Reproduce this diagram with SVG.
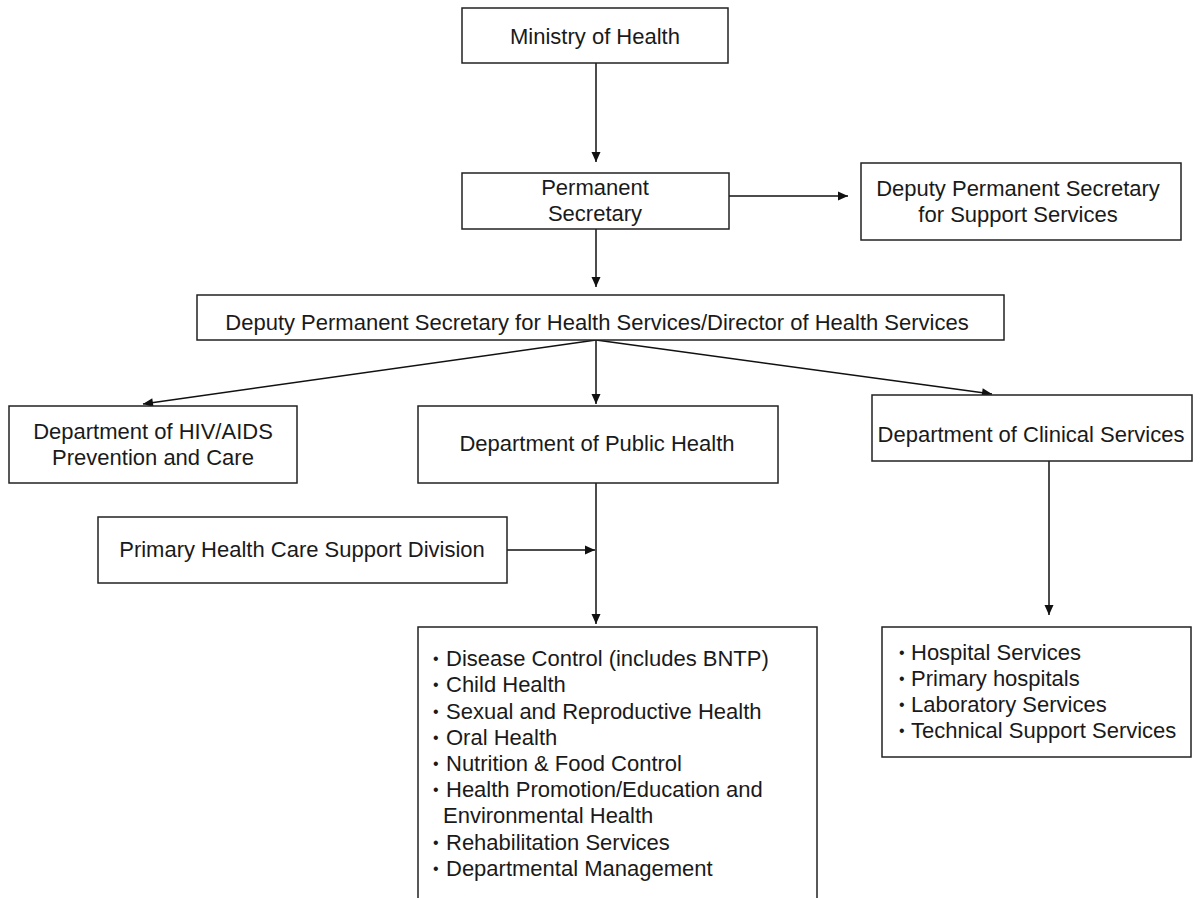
<svg xmlns="http://www.w3.org/2000/svg" width="1204" height="898" viewBox="0 0 1204 898">
<style>
.box{fill:#fff;stroke:#222;stroke-width:1.5}
.t{font-family:"Liberation Sans",Arial,sans-serif;font-size:22px;fill:#1a1a1a}
.b{font-family:"Liberation Sans",Arial,sans-serif;font-size:16px;fill:#1a1a1a}
.c{text-anchor:middle}
.ln{stroke:#111;stroke-width:1.5;fill:none}
</style>
<defs>
<marker id="ah" viewBox="0 0 10 10" refX="10" refY="5" markerWidth="11" markerHeight="10" markerUnits="userSpaceOnUse" orient="auto">
<path d="M0,0.5 L10,5 L0,9.5 Z" fill="#111"/>
</marker>
</defs>
<rect width="1204" height="898" fill="#fff"/>
<g id="connectors">
<line class="ln" x1="596" y1="63" x2="596" y2="162" marker-end="url(#ah)"/>
<line class="ln" x1="596" y1="229" x2="596" y2="287" marker-end="url(#ah)"/>
<line class="ln" x1="729" y1="196" x2="848" y2="196" marker-end="url(#ah)"/>
<line class="ln" x1="596" y1="340" x2="143" y2="404" marker-end="url(#ah)"/>
<line class="ln" x1="596" y1="340" x2="596" y2="404" marker-end="url(#ah)"/>
<line class="ln" x1="596" y1="340" x2="992" y2="394" marker-end="url(#ah)"/>
<line class="ln" x1="596" y1="483" x2="596" y2="624" marker-end="url(#ah)"/>
<line class="ln" x1="507" y1="550" x2="595" y2="550" marker-end="url(#ah)"/>
<line class="ln" x1="1049" y1="461" x2="1049" y2="615" marker-end="url(#ah)"/>
</g>
<g id="ministry">
<rect class="box" x="462" y="8" width="266" height="55"/>
<text class="t c" x="595" y="44">Ministry of Health</text>
</g>
<g id="perm-sec">
<rect class="box" x="462" y="173" width="267" height="56"/>
<text class="t c" x="595" y="195">Permanent</text>
<text class="t c" x="595" y="221">Secretary</text>
</g>
<g id="dps-support">
<rect class="box" x="861" y="163" width="320" height="77"/>
<text class="t c" x="1018" y="196">Deputy Permanent Secretary</text>
<text class="t c" x="1018" y="222">for Support Services</text>
</g>
<g id="dps-health">
<rect class="box" x="197" y="295" width="807" height="45"/>
<text class="t c" x="597" y="330">Deputy Permanent Secretary for Health Services/Director of Health Services</text>
</g>
<g id="hiv">
<rect class="box" x="9" y="406" width="288" height="77"/>
<text class="t c" x="153" y="439">Department of HIV/AIDS</text>
<text class="t c" x="153" y="465">Prevention and Care</text>
</g>
<g id="public-health">
<rect class="box" x="418" y="406" width="360" height="77"/>
<text class="t c" x="597" y="451">Department of Public Health</text>
</g>
<g id="clinical">
<rect class="box" x="872" y="395" width="320" height="66"/>
<text class="t c" x="1031" y="442">Department of Clinical Services</text>
</g>
<g id="phc">
<rect class="box" x="98" y="517" width="409" height="66"/>
<text class="t c" x="302" y="557">Primary Health Care Support Division</text>
</g>
<g id="ph-list">
<rect class="box" x="418" y="627" width="399" height="290"/>
<text class="b" x="433" y="664">•</text><text class="t" x="446" y="666">Disease Control (includes BNTP)</text>
<text class="b" x="433" y="690">•</text><text class="t" x="446" y="692">Child Health</text>
<text class="b" x="433" y="716.5">•</text><text class="t" x="446" y="718.5">Sexual and Reproductive Health</text>
<text class="b" x="433" y="742.5">•</text><text class="t" x="446" y="744.5">Oral Health</text>
<text class="b" x="433" y="769">•</text><text class="t" x="446" y="771">Nutrition &amp; Food Control</text>
<text class="b" x="433" y="795">•</text><text class="t" x="446" y="797">Health Promotion/Education and</text>
<text class="t" x="443" y="823">Environmental Health</text>
<text class="b" x="433" y="847.5">•</text><text class="t" x="446" y="849.5">Rehabilitation Services</text>
<text class="b" x="433" y="873.5">•</text><text class="t" x="446" y="875.5">Departmental Management</text>
</g>
<g id="clinical-list">
<rect class="box" x="882" y="627" width="309" height="130"/>
<text class="b" x="899" y="658">•</text><text class="t" x="911" y="660">Hospital Services</text>
<text class="b" x="899" y="684">•</text><text class="t" x="911" y="686">Primary hospitals</text>
<text class="b" x="899" y="710">•</text><text class="t" x="911" y="712">Laboratory Services</text>
<text class="b" x="899" y="736">•</text><text class="t" x="911" y="738">Technical Support Services</text>
</g>
</svg>
